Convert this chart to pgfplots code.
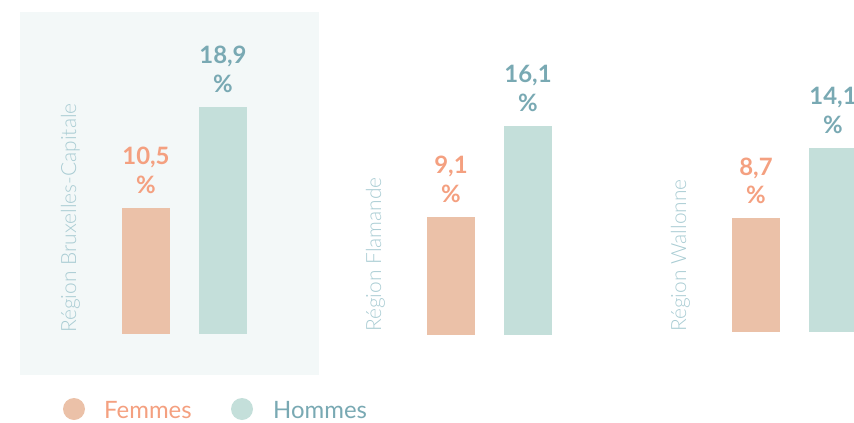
\documentclass[border=0pt]{standalone}
\usepackage{pgfplots}
\pgfplotsset{compat=1.18}
\usepackage{fontspec}
\setmainfont{Lato}
\newfontfamily\latolight{Lato Light}
\definecolor{fbar}{HTML}{EBC1A8}
\definecolor{ftxt}{HTML}{F4A080}
\definecolor{hbar}{HTML}{C4DFDA}
\definecolor{htxt}{HTML}{79A9B3}
\definecolor{rlab}{HTML}{A9CCD3}
\definecolor{bg}{HTML}{F3F8F8}
\pgfplotsset{
  panel/.style={
    at={(0,0)}, anchor=south west, scale only axis,
    width=854bp, height=422bp, xmin=0, xmax=854,
    hide axis, clip=false,
  },
  valbar/.style={ybar, bar width=48bp, bar shift=0pt, draw=none, fill=#1,
    nodes near coords={\pgfmathprintnumber[fixed,precision=1,fixed zerofill,use comma,assume math mode=true]{\pgfplotspointmeta}\\\%},
    every node near coord/.append style={align=center, anchor=south, inner sep=0pt, yshift=14bp,
      font=\fontsize{24}{29}\selectfont\bfseries}},
}
\begin{document}
\begin{tikzpicture}[x=1bp,y=1bp]
\clip (0,0) rectangle (854,422);
\fill[bg] (20,422-375) rectangle (319,422-12);
% Panel 1
\begin{axis}[panel, ymin=-7.321, ymax=27.787]
\addplot[valbar=fbar, every node near coord/.append style={text=ftxt}] coordinates {(146,10.5)};
\addplot[valbar=hbar, every node near coord/.append style={text=htxt}] coordinates {(223,18.9)};
\end{axis}
% Panel 2
\begin{axis}[panel, ymin=-6.692, ymax=25.769]
\addplot[valbar=fbar, every node near coord/.append style={text=ftxt}] coordinates {(451,9.1)};
\addplot[valbar=hbar, every node near coord/.append style={text=htxt}] coordinates {(528,16.1)};
\end{axis}
% Panel 3
\begin{axis}[panel, ymin=-6.891, ymax=25.421]
\addplot[valbar=fbar, every node near coord/.append style={text=ftxt}] coordinates {(756,8.7)};
\addplot[valbar=hbar, every node near coord/.append style={text=htxt}] coordinates {(833,14.1)};
\end{axis}
% Region labels
\tikzset{rl/.style={rotate=90, anchor=base west, inner sep=0pt, text=rlab, font=\latolight\fontsize{21}{24}\selectfont}}
\node[rl] at (76,422-333) {Région Bruxelles-Capitale};
\node[rl] at (381,422-332) {Région Flamande};
\node[rl] at (686,422-332) {Région Wallonne};
% Legend
\fill[fbar] (74,422-409) circle (11);
\node[anchor=base west, inner sep=0pt, text=ftxt, font=\fontsize{24}{28}\selectfont] at (104,422-418) {Femmes};
\fill[hbar] (242,422-409) circle (11);
\node[anchor=base west, inner sep=0pt, text=htxt, font=\fontsize{24}{28}\selectfont] at (273,422-418) {Hommes};
\end{tikzpicture}
\end{document}
